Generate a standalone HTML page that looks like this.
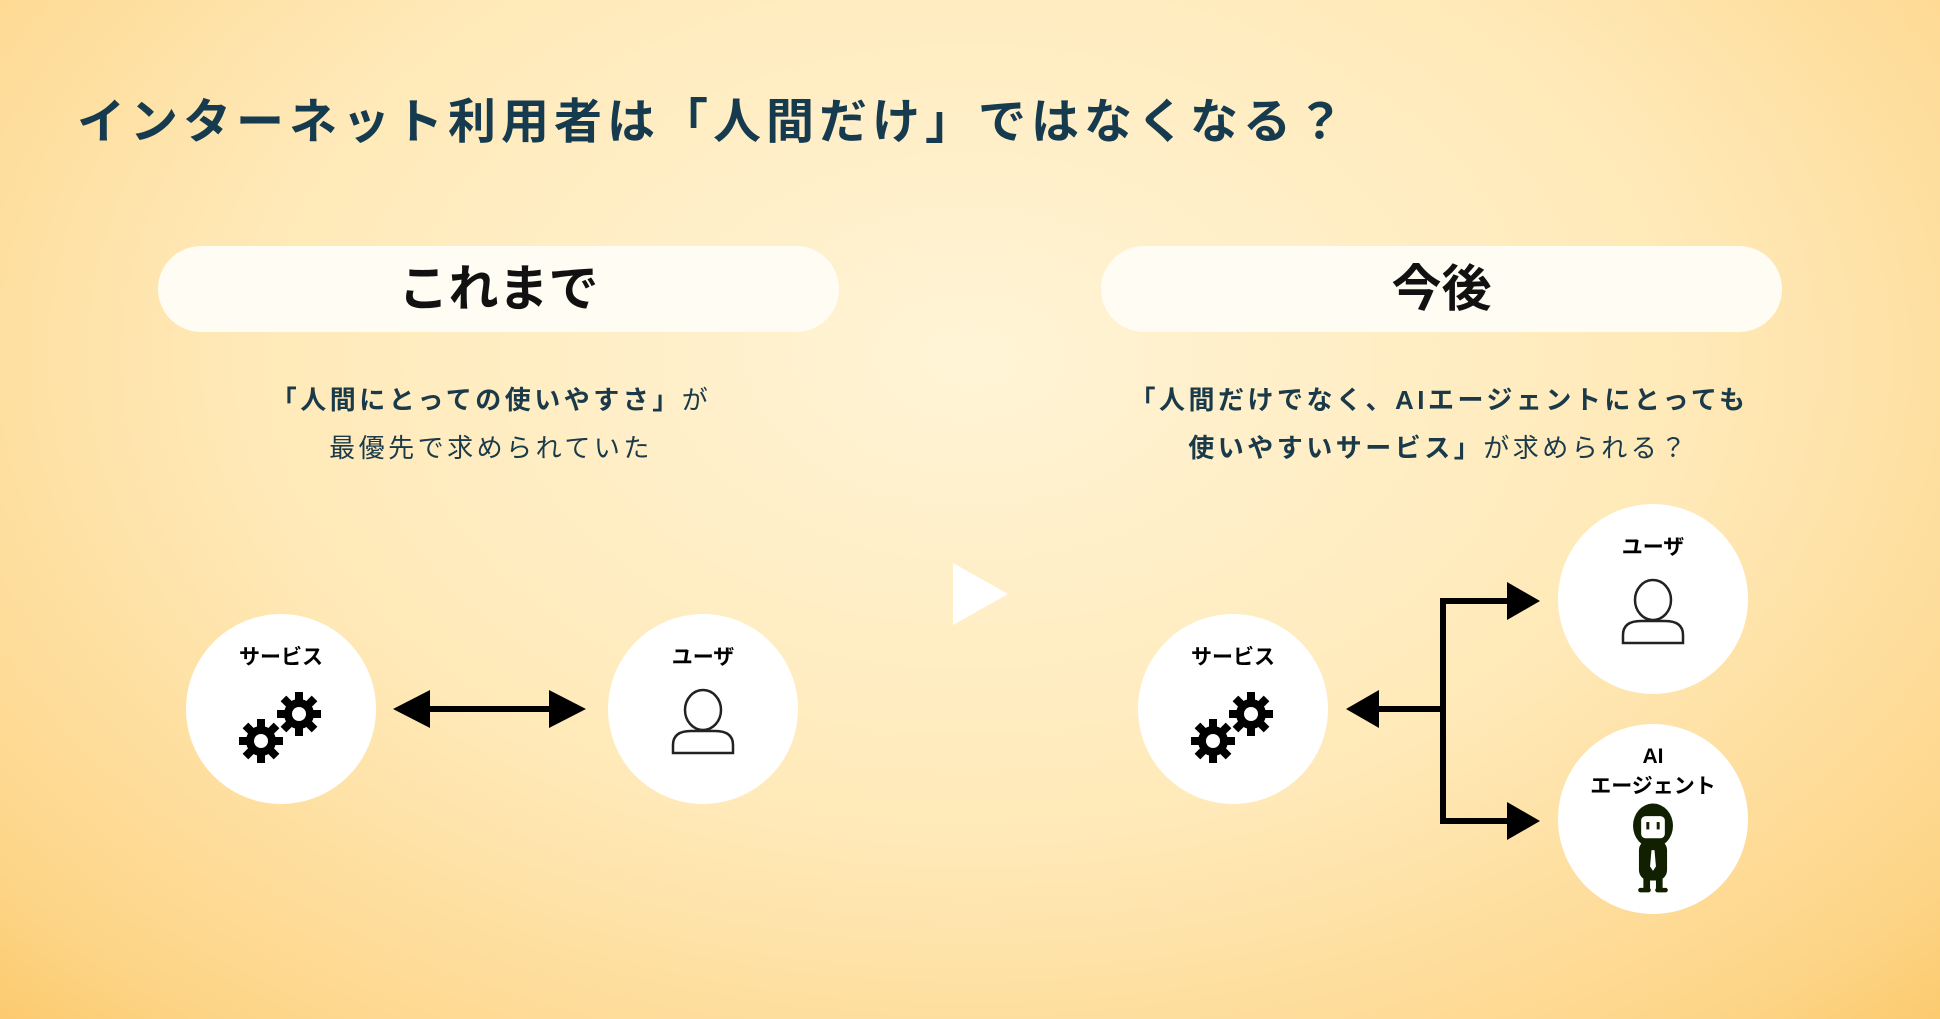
<!DOCTYPE html>
<html><head><meta charset="utf-8"><style>
html,body{margin:0;padding:0}
body{width:1940px;height:1019px;overflow:hidden;position:relative;font-family:"Liberation Sans","Noto Sans CJK JP",sans-serif;
background:radial-gradient(ellipse 75% 95% at 50% 35%,#fff4d6 0%,#ffe9b8 50%,#fdd588 85%,#fbc664 100%);}
.t{position:absolute;white-space:nowrap}
.pill{position:absolute;top:246px;width:681px;height:86px;border-radius:43px;background:#fffcf3;text-align:center;line-height:86px;font-size:50px;font-weight:bold;color:#111}
.sub{position:absolute;width:800px;text-align:center;font-size:26px;letter-spacing:3.5px;color:#1a3a4a;line-height:48px}
</style></head><body>
<div class="t" style="left:77px;top:82px;font-size:48px;font-weight:bold;color:#163a4e;letter-spacing:5px">インターネット利用者は「人間だけ」ではなくなる？</div>
<div class="pill" style="left:158px">これまで</div>
<div class="pill" style="left:1101px">今後</div>
<div class="sub" style="left:91px;top:376px"><b>「人間にとっての使いやすさ」</b>が<br>最優先で求められていた</div>
<div class="sub" style="left:1039px;top:376px"><b>「人間だけでなく、AIエージェントにとっても<br>使いやすいサービス」</b>が求められる？</div>
<svg width="1940" height="1019" style="position:absolute;left:0;top:0">
<defs>
<g id="gear"><circle r="15" fill="#000"/><g fill="#000">
<rect x="-4" y="-22" width="8" height="44"/><rect x="-4" y="-22" width="8" height="44" transform="rotate(45)"/><rect x="-4" y="-22" width="8" height="44" transform="rotate(90)"/><rect x="-4" y="-22" width="8" height="44" transform="rotate(135)"/></g><circle r="7" fill="#fff"/></g>
<g id="svc"><circle r="95" fill="#fff"/>
<text x="0" y="-45" text-anchor="middle" font-size="21" font-weight="bold" font-family="Liberation Sans,Noto Sans CJK JP,sans-serif">サービス</text>
<use href="#gear" x="-20" y="32"/><use href="#gear" x="18" y="5"/></g>
<g id="usr"><circle r="95" fill="#fff"/>
<text x="0" y="-45" text-anchor="middle" font-size="21" font-weight="bold" font-family="Liberation Sans,Noto Sans CJK JP,sans-serif">ユーザ</text>
<ellipse cx="0" cy="1" rx="18" ry="20" fill="none" stroke="#222" stroke-width="2.5"/>
<path d="M-30 44 V36 Q-30 22 -12 22 H12 Q30 22 30 36 V44 Z" fill="none" stroke="#222" stroke-width="2.5"/></g>
</defs>
<use href="#svc" x="281" y="709"/>
<use href="#usr" x="703" y="709"/>
<use href="#svc" x="1233" y="709"/>
<use href="#usr" x="1653" y="599"/>
<circle cx="1653" cy="819" r="95" fill="#fff"/>
<text x="1653" y="763" text-anchor="middle" font-size="21" font-weight="bold" font-family="Liberation Sans,Noto Sans CJK JP,sans-serif">AI</text>
<text x="1653" y="793" text-anchor="middle" font-size="21" font-weight="bold" font-family="Liberation Sans,Noto Sans CJK JP,sans-serif">エージェント</text>
<g transform="translate(1653,805) scale(0.74) translate(-1653,-805)">
<g fill="#112000">
<ellipse cx="1653" cy="833" rx="27" ry="30"/>
<rect x="1634" y="852" width="38" height="55" rx="14"/>
<rect x="1640" y="900" width="9" height="20"/><rect x="1657" y="900" width="9" height="20"/>
<rect x="1633" y="917" width="17" height="6" rx="3"/><rect x="1656" y="917" width="17" height="6" rx="3"/></g>
<rect x="1637" y="820" width="32" height="30" rx="6" fill="#fff"/>
<rect x="1644" y="828" width="4" height="10" fill="#112000"/><rect x="1658" y="828" width="4" height="10" fill="#112000"/>
<path d="M1651 866 h4 l2 22 -4 6 -4 -6z" fill="#fff"/>
</g>
<polygon points="953,563 1008,594 953,625" fill="#fff"/>
<g fill="#000">
<rect x="425" y="706" width="130" height="6"/>
<polygon points="393,709 430,690 430,728"/><polygon points="586,709 549,690 549,728"/>
<rect x="1375" y="706" width="70" height="6"/>
<polygon points="1346,709 1379,690 1379,728"/>
<rect x="1440" y="598" width="6" height="226"/>
<rect x="1440" y="598" width="70" height="6"/><rect x="1440" y="818" width="70" height="6"/>
<polygon points="1540,601 1507,582 1507,620"/><polygon points="1540,821 1507,802 1507,840"/>
</g>
</svg>
</body></html>
